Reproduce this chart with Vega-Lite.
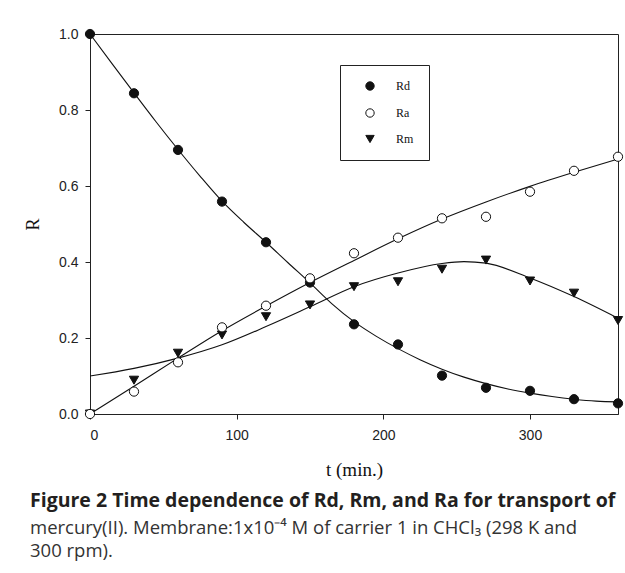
{
  "$schema": "https://vega.github.io/schema/vega-lite/v6.json",
  "width": 528,
  "height": 380,
  "autosize": {"type": "none"},
  "padding": {"left": 90, "top": 34, "right": 7, "bottom": 159},
  "background": "white",
  "config": {
    "view": {"stroke": "#222", "strokeWidth": 1},
    "axis": {
      "grid": false,
      "domainColor": "#222",
      "tickColor": "#222",
      "tickSize": 5,
      "labelFont": "Liberation Sans",
      "labelFontSize": 14,
      "labelColor": "#222",
      "titleFont": "Liberation Serif",
      "titleFontWeight": "normal",
      "titleFontSize": 19,
      "titleColor": "#111"
    },
    "legend": {
      "orient": "none", "legendX": 250, "legendY": 31,
      "strokeColor": "#222", "fillColor": "white", "padding": 15,
      "rowPadding": 13, "symbolOffset": 9, "labelOffset": 20,
      "labelFont": "Liberation Serif", "labelFontSize": 12, "labelColor": "#111",
      "symbolSize": 70, "symbolStrokeWidth": 1
    }
  },
  "title": {
    "text": "Figure 2 Time dependence of Rd, Rm, and Ra for transport of",
    "subtitle": ["mercury(II). Membrane:1x10⁻⁴ M of carrier 1 in CHCl₃ (298 K and", "300 rpm)."],
    "orient": "bottom",
    "anchor": "start",
    "frame": "group",
    "dx": -60,
    "offset": 13,
    "font": "Open Sans",
    "fontSize": 19.5,
    "fontWeight": "bold",
    "color": "#231f20",
    "subtitleFont": "Open Sans",
    "subtitleFontSize": 18.5,
    "subtitleFontWeight": "normal",
    "subtitleColor": "#333",
    "subtitlePadding": 7,
    "subtitleLineHeight": 23
  },
  "datasets": {
    "fit": [
      {"t": 0, "R": 1.0, "s": "Rd"}, {"t": 15, "R": 0.922, "s": "Rd"}, {"t": 30, "R": 0.845, "s": "Rd"},
      {"t": 45, "R": 0.769, "s": "Rd"}, {"t": 60, "R": 0.696, "s": "Rd"}, {"t": 75, "R": 0.626, "s": "Rd"},
      {"t": 90, "R": 0.56, "s": "Rd"}, {"t": 105, "R": 0.504, "s": "Rd"}, {"t": 120, "R": 0.452, "s": "Rd"},
      {"t": 135, "R": 0.398, "s": "Rd"}, {"t": 150, "R": 0.345, "s": "Rd"}, {"t": 165, "R": 0.29, "s": "Rd"},
      {"t": 180, "R": 0.243, "s": "Rd"}, {"t": 195, "R": 0.205, "s": "Rd"}, {"t": 210, "R": 0.172, "s": "Rd"},
      {"t": 225, "R": 0.143, "s": "Rd"}, {"t": 240, "R": 0.118, "s": "Rd"}, {"t": 255, "R": 0.097, "s": "Rd"},
      {"t": 270, "R": 0.08, "s": "Rd"}, {"t": 285, "R": 0.066, "s": "Rd"}, {"t": 300, "R": 0.055, "s": "Rd"},
      {"t": 315, "R": 0.046, "s": "Rd"}, {"t": 330, "R": 0.039, "s": "Rd"}, {"t": 345, "R": 0.034, "s": "Rd"},
      {"t": 360, "R": 0.032, "s": "Rd"},
      {"t": 0, "R": 0.0, "s": "Ra"}, {"t": 30, "R": 0.073, "s": "Ra"}, {"t": 60, "R": 0.147, "s": "Ra"},
      {"t": 90, "R": 0.219, "s": "Ra"}, {"t": 120, "R": 0.284, "s": "Ra"}, {"t": 150, "R": 0.346, "s": "Ra"},
      {"t": 180, "R": 0.404, "s": "Ra"}, {"t": 210, "R": 0.461, "s": "Ra"}, {"t": 240, "R": 0.513, "s": "Ra"},
      {"t": 270, "R": 0.558, "s": "Ra"}, {"t": 300, "R": 0.599, "s": "Ra"}, {"t": 330, "R": 0.636, "s": "Ra"},
      {"t": 360, "R": 0.671, "s": "Ra"},
      {"t": 0, "R": 0.1, "s": "Rm"}, {"t": 30, "R": 0.12, "s": "Rm"}, {"t": 60, "R": 0.147, "s": "Rm"},
      {"t": 90, "R": 0.182, "s": "Rm"}, {"t": 120, "R": 0.23, "s": "Rm"}, {"t": 150, "R": 0.282, "s": "Rm"},
      {"t": 180, "R": 0.335, "s": "Rm"}, {"t": 210, "R": 0.371, "s": "Rm"}, {"t": 240, "R": 0.396, "s": "Rm"},
      {"t": 255, "R": 0.401, "s": "Rm"}, {"t": 270, "R": 0.397, "s": "Rm"}, {"t": 300, "R": 0.358, "s": "Rm"},
      {"t": 330, "R": 0.309, "s": "Rm"}, {"t": 360, "R": 0.252, "s": "Rm"}
    ],
    "obs": [
      {"t": 0, "R": 1.0, "s": "Rd"}, {"t": 30, "R": 0.844, "s": "Rd"}, {"t": 60, "R": 0.695, "s": "Rd"},
      {"t": 90, "R": 0.559, "s": "Rd"}, {"t": 120, "R": 0.452, "s": "Rd"}, {"t": 150, "R": 0.346, "s": "Rd"},
      {"t": 180, "R": 0.236, "s": "Rd"}, {"t": 210, "R": 0.183, "s": "Rd"}, {"t": 240, "R": 0.101, "s": "Rd"},
      {"t": 270, "R": 0.069, "s": "Rd"}, {"t": 300, "R": 0.061, "s": "Rd"}, {"t": 330, "R": 0.039, "s": "Rd"},
      {"t": 360, "R": 0.028, "s": "Rd"},
      {"t": 0, "R": 0.0, "s": "Rm"}, {"t": 30, "R": 0.089, "s": "Rm"}, {"t": 60, "R": 0.16, "s": "Rm"},
      {"t": 90, "R": 0.208, "s": "Rm"}, {"t": 120, "R": 0.256, "s": "Rm"}, {"t": 150, "R": 0.287, "s": "Rm"},
      {"t": 180, "R": 0.335, "s": "Rm"}, {"t": 210, "R": 0.348, "s": "Rm"}, {"t": 240, "R": 0.381, "s": "Rm"},
      {"t": 270, "R": 0.405, "s": "Rm"}, {"t": 300, "R": 0.35, "s": "Rm"}, {"t": 330, "R": 0.318, "s": "Rm"},
      {"t": 360, "R": 0.246, "s": "Rm"},
      {"t": 0, "R": 0.0, "s": "Ra"}, {"t": 30, "R": 0.059, "s": "Ra"}, {"t": 60, "R": 0.136, "s": "Ra"},
      {"t": 90, "R": 0.228, "s": "Ra"}, {"t": 120, "R": 0.285, "s": "Ra"}, {"t": 150, "R": 0.357, "s": "Ra"},
      {"t": 180, "R": 0.423, "s": "Ra"}, {"t": 210, "R": 0.464, "s": "Ra"}, {"t": 240, "R": 0.515, "s": "Ra"},
      {"t": 270, "R": 0.519, "s": "Ra"}, {"t": 300, "R": 0.585, "s": "Ra"}, {"t": 330, "R": 0.64, "s": "Ra"},
      {"t": 360, "R": 0.677, "s": "Ra"}
    ]
  },
  "encoding": {
    "x": {
      "field": "t", "type": "quantitative",
      "scale": {"domain": [0, 360], "nice": false, "zero": false},
      "axis": {"values": [0, 100, 200, 300], "title": "t (min.)", "labelPadding": 9, "titlePadding": 18}
    },
    "y": {
      "field": "R", "type": "quantitative",
      "scale": {"domain": [0, 1], "nice": false},
      "axis": {"values": [0, 0.2, 0.4, 0.6, 0.8, 1.0], "format": ".1f", "title": "R", "labelPadding": 7, "titlePadding": 16, "titleFontSize": 18}
    }
  },
  "layer": [
    {
      "data": {"name": "fit"},
      "mark": {"type": "line", "interpolate": "monotone", "color": "#111", "strokeWidth": 1.1},
      "encoding": {"detail": {"field": "s"}}
    },
    {
      "data": {"name": "obs"},
      "mark": {"type": "point", "filled": false, "size": 85, "strokeWidth": 1, "opacity": 1},
      "encoding": {
        "shape": {
          "field": "s", "type": "nominal", "title": null,
          "scale": {"domain": ["Rd", "Ra", "Rm"], "range": ["circle", "circle", "triangle-down"]}
        },
        "fill": {
          "field": "s", "type": "nominal", "title": null,
          "scale": {"domain": ["Rd", "Ra", "Rm"], "range": ["#111", "white", "#111"]}
        },
        "stroke": {
          "field": "s", "type": "nominal", "title": null,
          "scale": {"domain": ["Rd", "Ra", "Rm"], "range": ["#111", "#111", "#111"]}
        }
      }
    }
  ]
}
